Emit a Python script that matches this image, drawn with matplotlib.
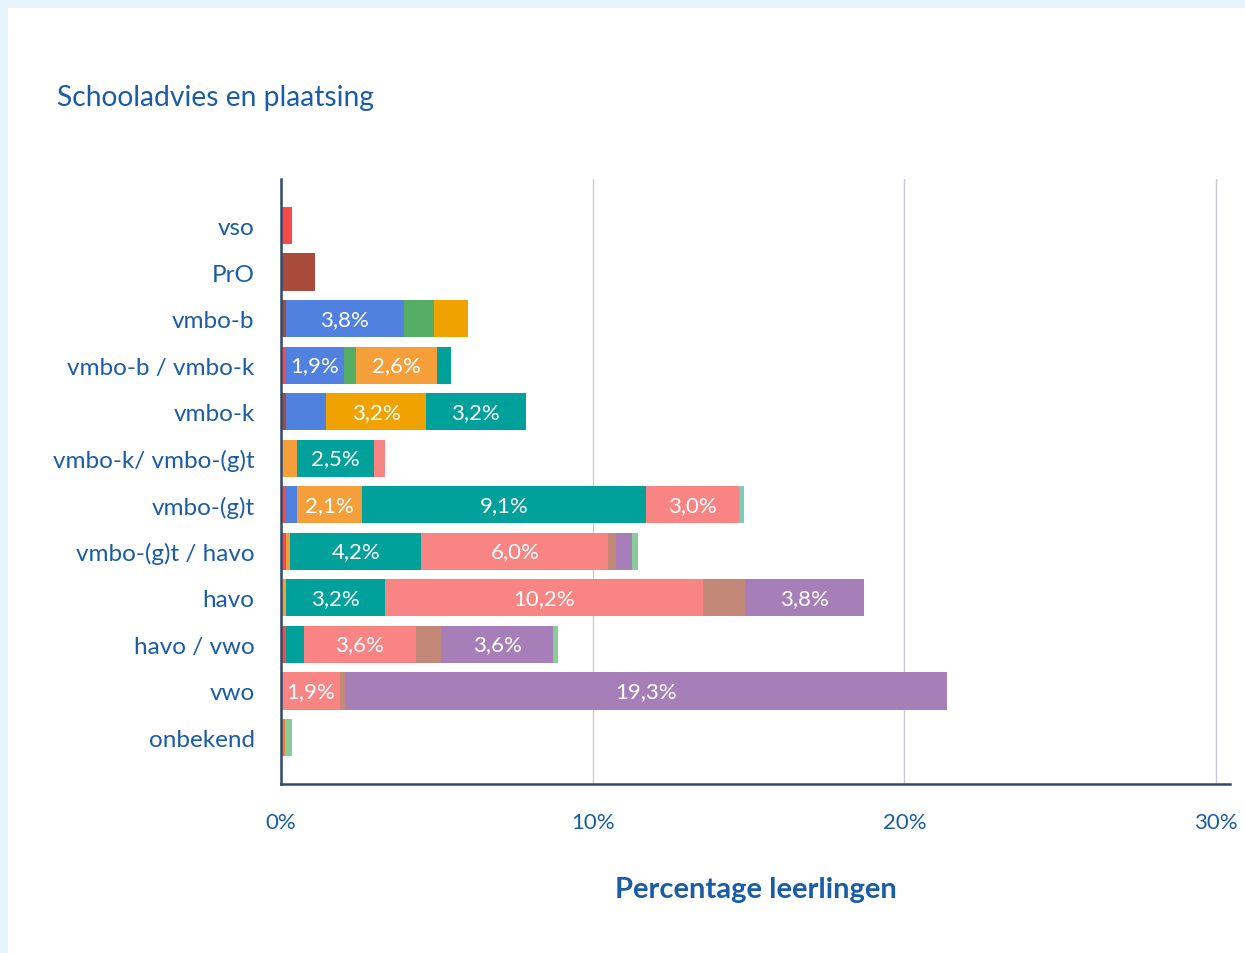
import numpy as np
import matplotlib
matplotlib.use("Agg")
import matplotlib.pyplot as plt

plt.rcParams['font.family'] = ['Lato', 'DejaVu Sans']

# schooladvies (rows)
advies = ["vso", "PrO", "vmbo-b", "vmbo-b / vmbo-k", "vmbo-k", "vmbo-k/ vmbo-(g)t",
          "vmbo-(g)t", "vmbo-(g)t / havo", "havo", "havo / vwo", "vwo", "onbekend"]

# plaatsing (stacked segments), values in % per advies row
vso_p       = [0.35, 0,    0,    0.12, 0,    0,    0.15, 0.15, 0,    0.15, 0,    0]
pro_p       = [0,    1.1,  0.15, 0,    0.15, 0,    0,    0,    0,    0,    0,    0]
vmbo_b      = [0,    0,    3.8,  1.9,  1.3,  0,    0.35, 0,    0,    0,    0,    0]
vmbo_bk     = [0,    0,    0.95, 0.4,  0,    0,    0,    0,    0,    0,    0,    0]
vmbo_k      = [0,    0,    1.1,  0,    3.2,  0,    0,    0,    0,    0,    0,    0]
vmbo_kgt    = [0,    0,    0,    2.6,  0,    0.5,  2.1,  0.15, 0.15, 0,    0,    0]
overig      = [0,    0,    0,    0,    0,    0,    0,    0,    0,    0,    0,    0.14]
vmbo_gt     = [0,    0,    0,    0.45, 3.2,  2.5,  9.1,  4.2,  3.2,  0.58, 0,    0]
havo        = [0,    0,    0,    0,    0,    0.35, 3.0,  6.0,  10.2, 3.6,  1.9,  0]
gt_havo     = [0,    0,    0,    0,    0,    0,    0.16, 0,    0,    0,    0,    0]
havo_vwo    = [0,    0,    0,    0,    0,    0,    0,    0.25, 1.35, 0.8,  0.16, 0]
vwo         = [0,    0,    0,    0,    0,    0,    0,    0.5,  3.8,  3.6,  19.3, 0]
onbekend_p  = [0,    0,    0,    0,    0,    0,    0,    0.2,  0,    0.15, 0,    0.2]

series = [vso_p, pro_p, vmbo_b, vmbo_bk, vmbo_k, vmbo_kgt, overig, vmbo_gt,
          havo, gt_havo, havo_vwo, vwo, onbekend_p]
colors = ["#f94a4a", "#a84b3a", "#5080e0", "#55ad65", "#f0a200", "#f59f3a", "#f08030",
          "#00a19a", "#f88484", "#7ccbb8", "#c48878", "#a77fb8", "#88cc99"]

blue = "#1a5ca6"

fig = plt.figure(figsize=(12.45, 9.54), dpi=100, facecolor="#e8f4fc")
# white card behind the chart
bg = fig.add_axes([8 / 1245, 0, 1, 1 - 9 / 954])
bg.axis("off")
bg.add_patch(plt.Rectangle((0, 0), 1, 1, transform=bg.transAxes, color="white"))

ax = fig.add_axes([281 / 1245, 1 - 785 / 954, (1230 - 281) / 1245, (785 - 180) / 954])
ax.set_facecolor("none")

y = np.arange(len(advies))
left = np.zeros(len(advies))
for vals, c in zip(series, colors):
    vals = np.array(vals)
    ax.barh(y, vals, left=left, height=0.8, color=c, zorder=2)
    for yi, v, l in zip(y, vals, left):
        if v >= 1.5:
            ax.text(l + v / 2, yi, f"{v:.1f}%".replace(".", ","), ha="center", va="center",
                    color="white", fontsize=16, zorder=3)
    left += vals

ax.set_xlim(0, 30.45)
ax.set_ylim(len(advies), -1)
ax.set_xticks([0, 10, 20, 30])
ax.set_xticklabels(["0%", "10%", "20%", "30%"])
ax.set_yticks(y)
ax.set_yticklabels(advies)
ax.tick_params(axis="y", length=0, pad=19, labelsize=17.5, labelcolor=blue)
ax.tick_params(axis="x", length=0, pad=20, labelsize=16, labelcolor=blue)
ax.grid(axis="x", color="#c9c9d9", linewidth=1, zorder=1)
for s in ["top", "right"]:
    ax.spines[s].set_visible(False)
for s in ["left", "bottom"]:
    ax.spines[s].set_color("#2f4a6a")
    ax.spines[s].set_linewidth(1.8)
    ax.spines[s].set_zorder(4)

ax.set_xlabel("Percentage leerlingen", fontsize=21, fontweight="bold", color=blue, labelpad=32)
fig.text(57 / 1245, 1 - 98 / 954, "Schooladvies en plaatsing", fontsize=20.3, color=blue,
         ha="left", va="center")

fig.savefig("out.png", dpi=100, facecolor=fig.get_facecolor())
